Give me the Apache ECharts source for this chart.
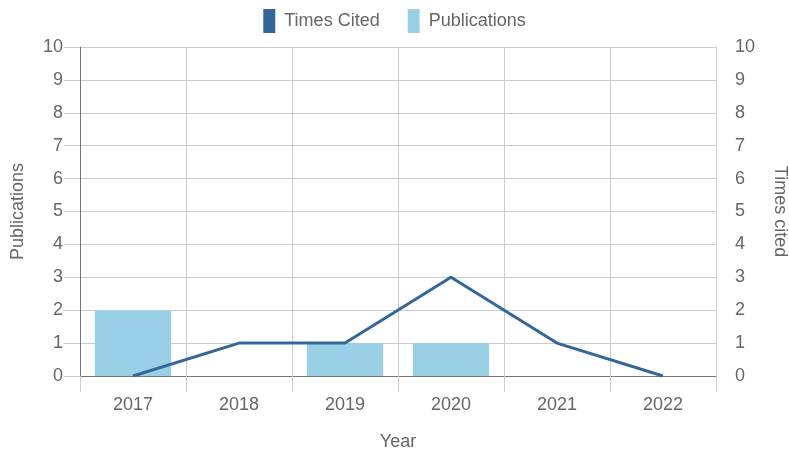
<!DOCTYPE html>
<html><head><meta charset="utf-8">
<script src="https://cdn.jsdelivr.net/npm/echarts@6/dist/echarts.min.js"></script>
<style>html,body{margin:0;padding:0;background:#fff}#c{width:789px;height:454px}</style>
</head><body><div id="c"></div>
<script>
var years = ['2017','2018','2019','2020','2021','2022'];
var publications = [2, 0, 1, 1, 0, 0];
var timesCited = [0, 1, 1, 3, 1, 0];
var yTicks = {min: 0, max: 10, interval: 1};

var font = 'Liberation Sans';
var txt = '#666';
var grid = '#cccccc';
var chart = echarts.init(document.getElementById('c'));
chart.setOption({
  animation: false,
  textStyle: {fontFamily: font},
  legend: {
    top: 4, left: 'center', itemWidth: 12, itemHeight: 24, itemGap: 28, icon: 'rect',
    textStyle: {fontSize: 18, color: txt, fontFamily: font, padding: [0,0,0,4]},
    data: ['Times Cited', 'Publications']
  },
  grid: {left: 80, right: 73, top: 47, bottom: 78, containLabel: false, outerBoundsMode: 'none'},
  xAxis: {
    type: 'category', data: years, boundaryGap: true,
    name: 'Year', nameLocation: 'middle', nameGap: 57,
    nameTextStyle: {fontSize: 18, color: txt, fontFamily: font},
    axisLine: {lineStyle: {color: '#777', width: 1}},
    axisTick: {show: true, length: 16, lineStyle: {color: grid}},
    axisLabel: {fontSize: 18, color: txt, margin: 20, fontFamily: font},
    splitLine: {show: true, lineStyle: {color: grid}}
  },
  yAxis: [{
    type: 'value', min: yTicks.min, max: yTicks.max, interval: yTicks.interval, position: 'left',
    name: 'Publications', nameLocation: 'middle', nameGap: 53,
    nameTextStyle: {fontSize: 18, color: txt, fontFamily: font},
    axisLine: {show: true, lineStyle: {color: '#777'}},
    axisTick: {show: true, length: 16, lineStyle: {color: grid}},
    axisLabel: {fontSize: 18, color: txt, margin: 17, fontFamily: font},
    splitLine: {show: true, lineStyle: {color: grid}}
  }, {
    type: 'value', min: yTicks.min, max: yTicks.max, interval: yTicks.interval, position: 'right',
    name: 'Times cited', nameLocation: 'middle', nameGap: 55, nameRotate: -90,
    nameTextStyle: {fontSize: 18, color: txt, fontFamily: font},
    axisLine: {show: true, lineStyle: {color: grid}},
    axisTick: {show: false},
    axisLabel: {fontSize: 18, color: txt, margin: 19, fontFamily: font},
    splitLine: {show: false}
  }],
  series: [{
    name: 'Times Cited', type: 'line', yAxisIndex: 1, data: timesCited,
    symbol: 'none', lineStyle: {color: '#336699', width: 3}, itemStyle: {color: '#336699'}, z: 3
  }, {
    name: 'Publications', type: 'bar', yAxisIndex: 0, data: publications,
    barWidth: '72%', itemStyle: {color: '#9ad0e6', borderColor: '#8cc2d8', borderWidth: 0}, z: 2
  }]
});
</script></body></html>
